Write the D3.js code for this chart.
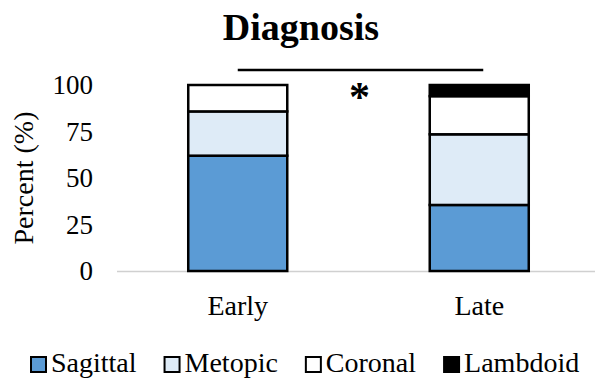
<!DOCTYPE html>
<html>
<head>
<meta charset="utf-8">
<script src="https://cdn.jsdelivr.net/npm/d3@7"></script>
<style>
  html, body { margin: 0; padding: 0; background: #fff; }
  svg { display: block; }
  text { font-family: "Times New Roman", "Liberation Serif", serif; fill: #000; }
</style>
</head>
<body>
<svg id="chart" width="595" height="379"></svg>
<script>
// ---- data ----
const categories = ["Early", "Late"];
const seriesNames = ["Sagittal", "Metopic", "Coronal", "Lambdoid"];
const sagittal = [62, 35.5];
const metopic  = [23.8, 38];
const coronal  = [14.2, 20.5];
const lambdoid = [0, 6];
const yTicks = [0, 25, 50, 75, 100];
const seriesColors = ["#5B9BD5", "#DEEBF7", "#FFFFFF", "#000000"];
const title = "Diagnosis";
const yLabel = "Percent (%)";
const sigMark = "*";

const FONT = '"Liberation Serif", "Times New Roman", serif';

// ---- build table ----
const table = categories.map((c, i) => ({
  cat: c,
  Sagittal: sagittal[i],
  Metopic: metopic[i],
  Coronal: coronal[i],
  Lambdoid: lambdoid[i]
}));
const stacked = d3.stack().keys(seriesNames)(table);

const svg = d3.select("#chart");
const x = d3.scaleBand().domain(categories).range([117, 600])
  .paddingInner(0.59).paddingOuter(0.295);
const y = d3.scaleLinear().domain([0, 100]).range([271, 85]);
const color = d3.scaleOrdinal().domain(seriesNames).range(seriesColors);

// baseline (x axis line)
svg.append("line")
  .attr("x1", x.range()[0]).attr("x2", x.range()[1])
  .attr("y1", y(0) + 0.5).attr("y2", y(0) + 0.5)
  .attr("stroke", "#d0d0d0").attr("stroke-width", 1.5);

// bars
svg.append("g").selectAll("g")
  .data(stacked).join("g")
  .attr("fill", d => color(d.key))
  .selectAll("rect")
  .data(d => d.filter(s => s[1] - s[0] > 0))
  .join("rect")
  .attr("x", d => x(d.data.cat))
  .attr("width", x.bandwidth())
  .attr("y", d => y(d[1]))
  .attr("height", d => y(d[0]) - y(d[1]))
  .attr("stroke", "#000")
  .attr("stroke-width", 2.5);

// y axis (labels only)
const yAxis = svg.append("g")
  .attr("transform", `translate(${x.range()[0]},0)`)
  .call(d3.axisLeft(y).tickValues(yTicks).tickSize(0).tickPadding(24));
yAxis.attr("font-family", null);
yAxis.select(".domain").remove();
yAxis.selectAll("text")
  .style("font-family", FONT)
  .style("font-size", "27px")
  .attr("fill", "#000");

// x labels
const xAxis = svg.append("g")
  .attr("transform", `translate(0,${y(0)})`)
  .call(d3.axisBottom(x).tickSize(0).tickPadding(0));
xAxis.attr("font-family", null);
xAxis.select(".domain").remove();
xAxis.selectAll("text")
  .attr("y", 44).attr("dy", null)
  .style("font-family", FONT)
  .style("font-size", "28px")
  .attr("fill", "#000");

// title
svg.append("text")
  .attr("x", 301).attr("y", 40)
  .attr("text-anchor", "middle")
  .style("font-family", FONT)
  .style("font-size", "38px").style("font-weight", "bold")
  .text(title);

// y label
svg.append("text")
  .attr("transform", "translate(33,178) rotate(-90)")
  .attr("text-anchor", "middle")
  .style("font-family", FONT)
  .style("font-size", "28px")
  .text(yLabel);

// significance bracket
const c0 = x(categories[0]) + x.bandwidth() / 2;
const c1 = x(categories[1]) + x.bandwidth() / 2;
svg.append("line")
  .attr("x1", c0).attr("x2", c1 + 4)
  .attr("y1", 70).attr("y2", 70)
  .attr("stroke", "#000").attr("stroke-width", 2.5);
svg.append("text")
  .attr("x", (c0 + c1) / 2 + 1).attr("y", 111)
  .attr("text-anchor", "middle")
  .style("font-family", FONT)
  .style("font-size", "42px").style("font-weight", "bold")
  .text(sigMark);

// legend
const legend = svg.append("g").attr("transform", "translate(30,372)");
let lx = 0;
seriesNames.forEach((name, i) => {
  const g = legend.append("g").attr("transform", `translate(${lx},0)`);
  g.append("rect")
    .attr("x", 1).attr("y", -15)
    .attr("width", 15).attr("height", 15)
    .attr("fill", seriesColors[i])
    .attr("stroke", "#000").attr("stroke-width", 2);
  const t = g.append("text")
    .attr("x", 21).attr("y", 0)
    .style("font-family", FONT)
    .style("font-size", "28px")
    .text(name);
  const w = t.node().getComputedTextLength();
  lx += 21 + w + 27;
});
</script>
</body>
</html>
